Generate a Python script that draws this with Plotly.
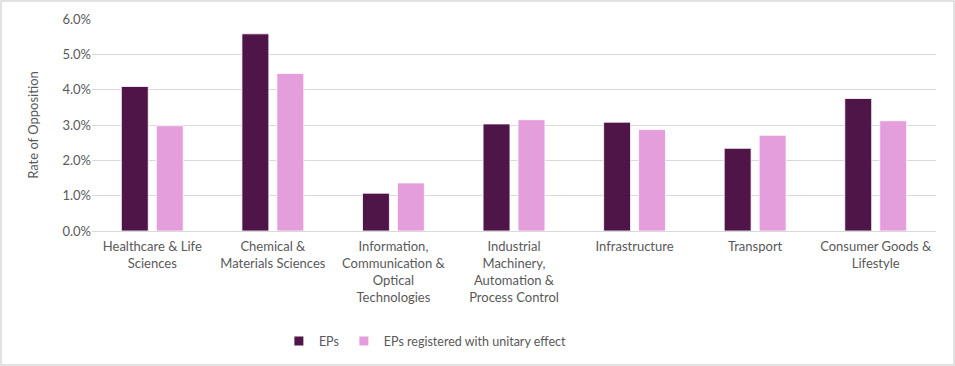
import plotly.graph_objects as go

categories = [
    "Healthcare & Life<br>Sciences",
    "Chemical &<br>Materials Sciences",
    "Information,<br>Communication &<br>Optical<br>Technologies",
    "Industrial<br>Machinery,<br>Automation &<br>Process Control",
    "Infrastructure",
    "Transport",
    "Consumer Goods &<br>Lifestyle",
]
eps = [0.0409, 0.0558, 0.0107, 0.0303, 0.0308, 0.0234, 0.0375]
eps_ue = [0.0298, 0.0446, 0.0136, 0.0315, 0.0287, 0.0271, 0.0312]
tick_vals = [0, 0.01, 0.02, 0.03, 0.04, 0.05, 0.06]
series_names = ["EPs", "EPs registered with unitary effect"]
series_colors = ["#501548", "#E39EDB"]

FONT = "Lato"
GREY = "#595959"

fig = go.Figure()
for vals, name, col in zip([eps, eps_ue], series_names, series_colors):
    fig.add_trace(go.Bar(x=categories, y=vals, name=name, showlegend=False,
                         legendgroup=name,
                         marker=dict(color=col, line=dict(color="white", width=0.8))))
# legend entries drawn as small squares (like the original)
for name, col in zip(series_names, series_colors):
    fig.add_trace(go.Scatter(x=[None], y=[None], mode="markers", name=name,
                             legendgroup=name,
                             marker=dict(symbol="square", size=9, color=col)))

W, H = 955, 366
L, R, T, B = 92, 19, 19, 135
pw, ph = W - L - R, H - T - B

fig.update_layout(
    width=W, height=H,
    margin=dict(l=L, r=R, t=T, b=B, autoexpand=False),
    paper_bgcolor="white", plot_bgcolor="white",
    barmode="group", bargap=0.42, bargroupgap=0.23,
    font=dict(family=FONT, size=13, color=GREY),
    showlegend=True,
    legend=dict(orientation="h", x=0.395, xanchor="center", y=-0.45, yanchor="top",
                font=dict(family=FONT, size=12.5, color=GREY),
                itemwidth=30, traceorder="normal", tracegroupgap=0),
    xaxis=dict(showgrid=False, tickfont=dict(size=13, color=GREY), ticks="",
               showline=False, tickangle=0, ticklabelstandoff=6),
    yaxis=dict(range=[0, 0.06], tickvals=tick_vals, tickformat=".1%",
               gridcolor="#D9D9D9", gridwidth=1, zeroline=True, zerolinecolor="#D9D9D9",
               zerolinewidth=1, showline=False, ticks="",
               tickfont=dict(size=13, color=GREY),
               title=dict(text="Rate of Opposition", font=dict(size=13, color=GREY), standoff=20)),
    shapes=[dict(type="rect", xref="paper", yref="paper",
                 x0=-(L - 1) / pw, x1=1 + (R - 1) / pw,
                 y0=-(B - 1) / ph, y1=1 + (T - 1) / ph,
                 line=dict(color="#D9D9D9", width=1.5), fillcolor="rgba(0,0,0,0)", layer="below")],
)

fig.write_html("out.html", config={"displayModeBar": False},
               post_script="document.body.style.margin='0';")
